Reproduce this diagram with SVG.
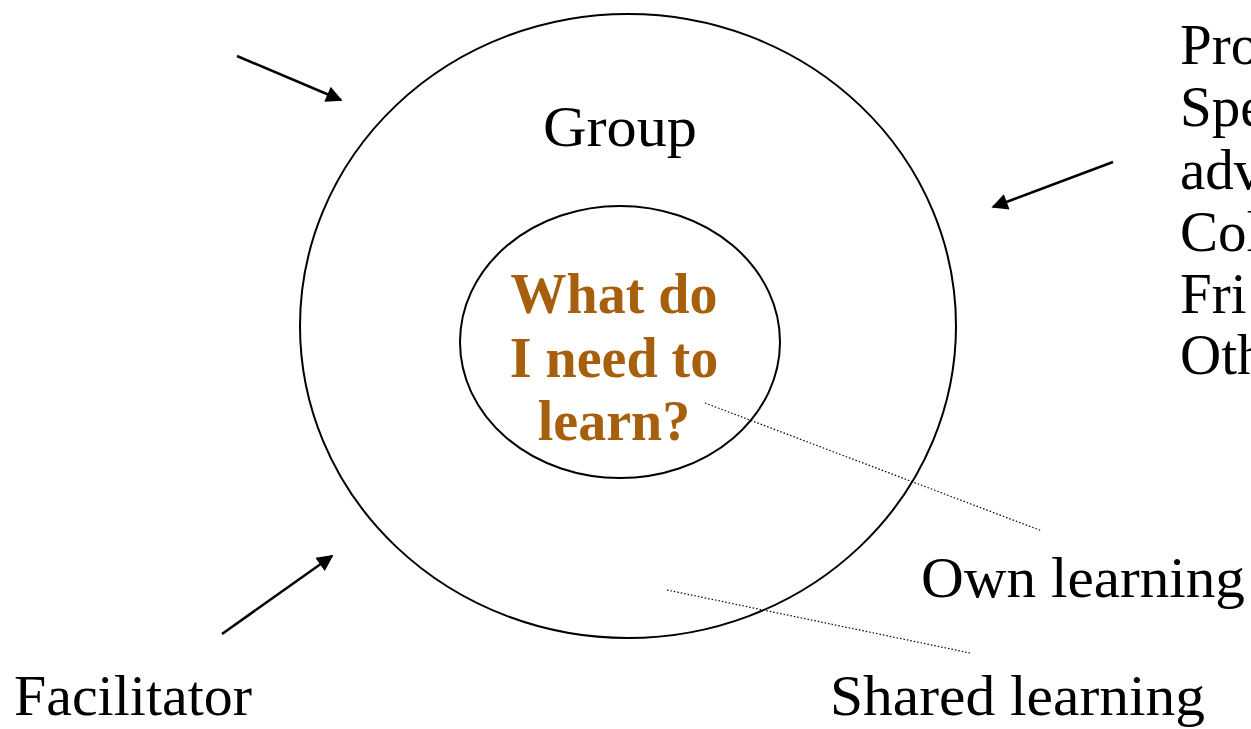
<svg xmlns="http://www.w3.org/2000/svg" width="1251" height="729" viewBox="0 0 1251 729">
<style>
.t{font-family:"Liberation Serif","DejaVu Serif",serif;font-size:57px;fill:#000}
.q{font-family:"Liberation Serif","DejaVu Serif",serif;font-size:56px;font-weight:bold;fill:#A65F0C;text-anchor:middle}
.ring{fill:none;stroke:#000;stroke-width:2}
.arr{stroke:#000;stroke-width:2.5;fill:none;marker-end:url(#ah)}
.dot{stroke:#000;stroke-width:1.2;stroke-dasharray:1.5 2;fill:none}
</style>
<defs>
<marker id="ah" viewBox="0 0 10 10" refX="9" refY="5" markerWidth="7.5" markerHeight="6.5" markerUnits="strokeWidth" orient="auto">
<path d="M0,0 L10,5 L0,10 z" fill="#000"/>
</marker>
</defs>
<g id="outer"><ellipse class="ring" cx="628" cy="326" rx="328" ry="312"/>
<text class="t" x="543" y="146" textLength="154" lengthAdjust="spacingAndGlyphs">Group</text></g>
<g id="inner"><ellipse class="ring" cx="620" cy="342" rx="160" ry="136"/>
<text class="q" x="614" y="313">What do</text>
<text class="q" x="614" y="377">I need to</text>
<text class="q" x="614" y="440">learn?</text></g>
<g id="facilitator"><text class="t" x="14" y="715" textLength="238" lengthAdjust="spacingAndGlyphs">Facilitator</text></g>
<g id="others"><text class="t" x="1180" y="64">Pro</text>
<text class="t" x="1180" y="126">Spe</text>
<text class="t" x="1180" y="189">adv</text>
<text class="t" x="1180" y="251">Col</text>
<text class="t" x="1180" y="313">Fri</text>
<text class="t" x="1180" y="374">Oth</text></g>
<g id="own"><text class="t" x="921" y="597" textLength="324" lengthAdjust="spacingAndGlyphs">Own learning</text></g>
<g id="shared"><text class="t" x="830" y="715" textLength="375" lengthAdjust="spacingAndGlyphs">Shared learning</text></g>
<g id="connectors">
<line class="arr" x1="237" y1="56" x2="341" y2="100"/>
<line class="arr" x1="1113" y1="162" x2="993" y2="207"/>
<line class="arr" x1="222" y1="634" x2="332" y2="556"/>
<line class="dot" x1="705" y1="403" x2="1042" y2="531"/>
<line class="dot" x1="667" y1="590" x2="970" y2="653"/>
</g>
</svg>
